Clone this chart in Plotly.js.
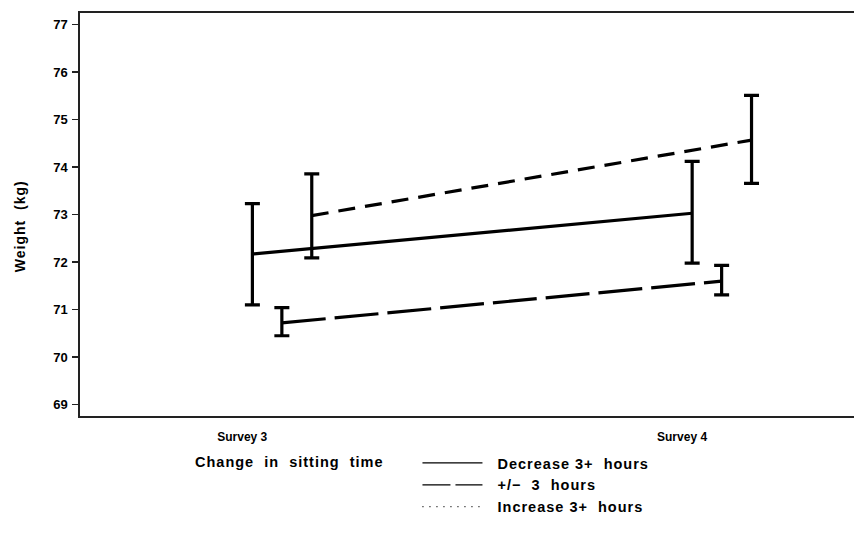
<!DOCTYPE html>
<html>
<head>
<meta charset="utf-8">
<script src="https://cdn.plot.ly/plotly-3.0.1.min.js"></script>
<style>html,body{margin:0;padding:0;background:#fff;}#chart{width:854px;height:547px;}
.legendtext, .annotation-text { letter-spacing: 1px; }</style>
</head>
<body>
<div id="chart"></div>
<script>
// Survey positions and labels
const surveys = [3, 4];
const surveyLabels = ['Survey 3', 'Survey 4'];
const yTicks = [69, 70, 71, 72, 73, 74, 75, 76, 77];

// Groups
const groups = ['Decrease 3+  hours', '+/\u2212  3  hours', 'Increase 3+  hours'];
const groupOffsets = [0.023, 0.09, 0.158];

// Means and CI bounds per group (Survey 3, Survey 4)
const decMean = [72.17, 73.03];
const decUpper = [73.23, 74.12];
const decLower = [71.10, 71.98];

const midMean = [70.72, 71.60];
const midUpper = [71.04, 71.93];
const midLower = [70.45, 71.31];

const incMean = [72.98, 74.57];
const incUpper = [73.86, 75.51];
const incLower = [72.09, 73.66];

const means = [decMean, midMean, incMean];
const uppers = [decUpper, midUpper, incUpper];
const lowers = [decLower, midLower, incLower];
const dashes = ['solid', '44px,9px', '17px,10px'];
const legendDashes = ['solid', '28px,5px', '1px,6px'];

const traces = [];
groups.forEach((g, i) => {
  traces.push({
    type: 'scatter', mode: 'lines',
    x: surveys.map(s => s + groupOffsets[i]),
    y: means[i],
    line: {color: '#000', width: 3.2, dash: dashes[i]},
    error_y: {
      type: 'data', symmetric: false,
      array: uppers[i].map((u, k) => u - means[i][k]),
      arrayminus: means[i].map((m, k) => m - lowers[i][k]),
      color: '#000', thickness: 3.2, width: 7.5
    },
    showlegend: false, hoverinfo: 'skip'
  });
});
// legend-only entries
groups.forEach((g, i) => {
  traces.push({
    type: 'scatter', mode: 'lines', x: [null], y: [null], name: '\u00a0\u00a0' + g,
    line: {color: '#000', width: 1.2, dash: legendDashes[i]},
    showlegend: true
  });
});

const font = 'Liberation Sans, Arial, Helvetica, sans-serif';
const layout = {
  width: 854, height: 547,
  margin: {l: 80, r: 0, t: 13, b: 131},
  paper_bgcolor: '#fff', plot_bgcolor: '#fff',
  font: {family: font, color: '#000', size: 13, weight: 'bold'},
  showlegend: true,
  legend: {
    x: 0.436, xanchor: 'left', y: -0.077, yanchor: 'top',
    orientation: 'v', itemwidth: 60, tracegroupgap: 0,
    font: {family: font, size: 14.5, color: '#000', weight: 'bold'},
    bgcolor: 'rgba(0,0,0,0)'
  },
  xaxis: {
    range: [2.631, 4.391], tickvals: surveys, ticktext: surveyLabels,
    ticks: '', showgrid: false, zeroline: false, ticklabelstandoff: 9,
    showline: true, linecolor: '#222', linewidth: 1.6, mirror: true,
    tickfont: {family: font, size: 12, weight: 'bold'}
  },
  yaxis: {
    range: [68.76, 77.246], tickvals: yTicks,
    ticks: 'outside', ticklen: 6, tickwidth: 1.5, tickcolor: '#222',
    showgrid: false, zeroline: false, ticklabelstandoff: 2,
    showline: true, linecolor: '#222', linewidth: 1.6,
    tickfont: {family: font, size: 13, weight: 'bold'}
  },
  annotations: [
    {text: 'Weight  (kg)', xref: 'paper', yref: 'paper', x: -0.078, y: 0.47,
     xanchor: 'center', yanchor: 'middle', textangle: -90, showarrow: false,
     font: {family: font, size: 14, weight: 'bold'}},
    {text: 'Change  in  sitting  time', xref: 'paper', yref: 'paper', x: 0.146, y: -0.113,
     xanchor: 'left', yanchor: 'middle', showarrow: false,
     font: {family: font, size: 14.5, weight: 'bold'}}
  ]
};
Plotly.newPlot('chart', traces, layout, {displayModeBar: false, staticPlot: true});
</script>
</body>
</html>
